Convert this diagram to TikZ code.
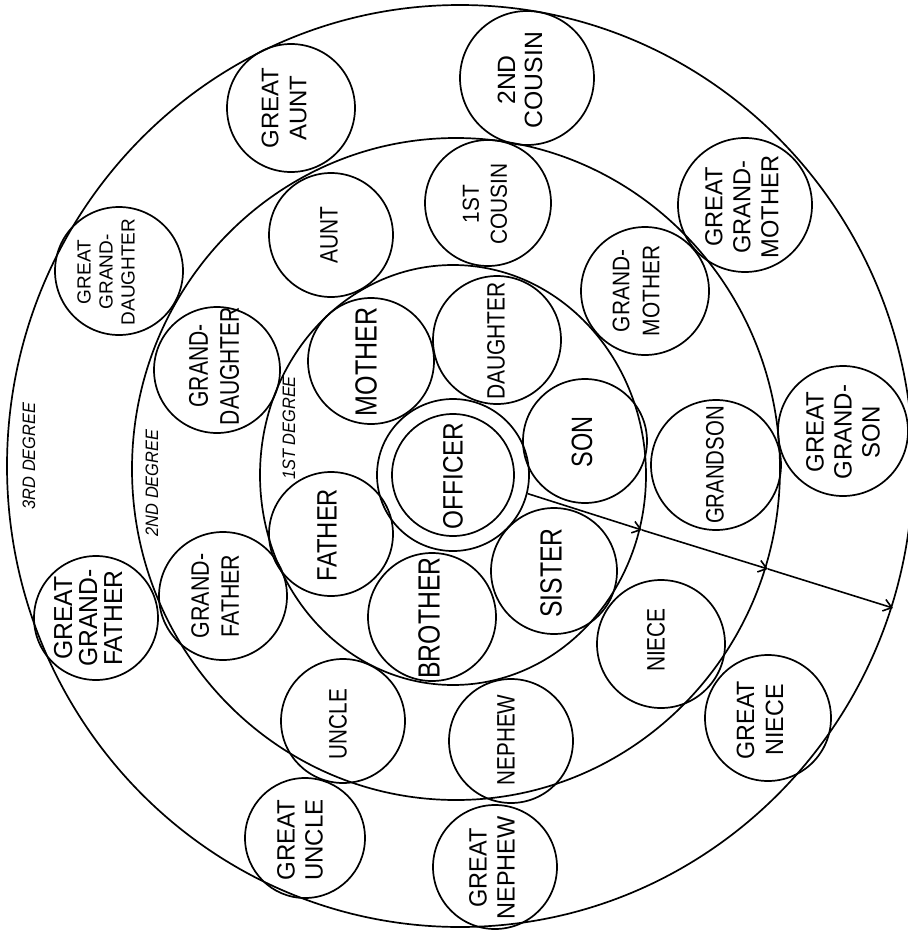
\documentclass[tikz,border=0pt]{standalone}
\usepackage{fontspec}
\setmainfont{Liberation Sans}
\usetikzlibrary{arrows.meta,shapes.geometric}
\newcommand\fsz[2]{\fontsize{#1pt}{#2pt}\selectfont}
\begin{document}
\begin{tikzpicture}[x=0.5pt,y=-0.5pt,
  ln/.style={line width=0.85pt, draw=black},
  ring/.style={ln, circle, inner sep=0pt},
  band/.style={ln, ellipse, inner sep=0pt},
  lab/.style={rotate=90, transform shape, align=center, inner sep=0pt, text=black},
  deg/.style={lab, font=\fsz{9}{10}\itshape},
  arr/.style={line width=0.8pt, -{Straight Barb[length=4pt,width=6pt,line width=0.8pt]}}]
\useasboundingbox (0,0) rectangle (908,932);
\fill[white] (0,0) rectangle (908,932);

% degree bands
\node[band, minimum width=193pt, minimum height=210pt] (b1) at (453,475) {};
\node[band, minimum width=324pt, minimum height=331pt] (b2) at (456,469) {};
\node[band, minimum width=453pt, minimum height=461pt] (b3) at (460,466) {};

% officer
\node[ring, minimum size=76pt] (oo) at (453,475) {};
\node[ring, minimum size=61pt] (oi) at (453,475) {};

% first degree
\node[ring, minimum size=63pt] (c-mother) at (371,361) {};
\node[ring, minimum size=64pt] (c-daughter) at (497,340) {};
\node[ring, minimum size=62pt] (c-son) at (585,441) {};
\node[ring, minimum size=63pt] (c-sister) at (554,571) {};
\node[ring, minimum size=64pt] (c-brother) at (432,617) {};
\node[ring, minimum size=62pt] (c-father) at (331,534) {};

% second degree
\node[ring, minimum size=62pt] (c-aunt) at (331,235) {};
\node[ring, minimum size=63pt] (c-cousin1) at (488,203) {};
\node[ring, minimum size=64pt] (c-gmother) at (645,291) {};
\node[ring, minimum size=65pt] (c-grandson) at (716,465) {};
\node[ring, minimum size=64pt] (c-niece) at (661,644) {};
\node[ring, minimum size=62pt] (c-nephew) at (511,741) {};
\node[ring, minimum size=62pt] (c-uncle) at (343,721) {};
\node[ring, minimum size=64pt] (c-gfather) at (223,596) {};
\node[ring, minimum size=63pt] (c-gdaughter) at (217,370) {};

% third degree
\node[ring, minimum size=64pt] (c-gaunt) at (291,108) {};
\node[ring, minimum size=67pt] (c-cousin2) at (527,78) {};
\node[ring, minimum size=67pt] (c-ggmother) at (745,205) {};
\node[ring, minimum size=65pt] (c-ggson) at (843,431) {};
\node[ring, minimum size=63pt] (c-gniece) at (768,718) {};
\node[ring, minimum size=62pt] (c-gnephew) at (495,867) {};
\node[ring, minimum size=60pt] (c-guncle) at (305,838) {};
\node[ring, minimum size=62pt] (c-ggfather) at (96,618) {};
\node[ring, minimum size=64pt] (c-ggdaughter) at (119,271) {};

% labels
\node[lab, font=\fsz{14}{15}, xscale=0.87] (t-officer) at (453,476) {OFFICER};
\node[lab, font=\fsz{15.3}{16}, xscale=0.82] (t-mother) at (366,362) {MOTHER};
\node[lab, font=\fsz{12.5}{14}, xscale=0.84] (t-daughter) at (496,341) {DAUGHTER};
\node[lab, font=\fsz{14.7}{16}, xscale=0.80] (t-son) at (582,442) {SON};
\node[lab, font=\fsz{15.3}{16}, xscale=0.81] (t-sister) at (551,573) {SISTER};
\node[lab, font=\fsz{15.3}{16}, xscale=0.81] (t-brother) at (429,618) {BROTHER};
\node[lab, font=\fsz{14}{15}, xscale=0.85] (t-father) at (327,535) {FATHER};

\node[lab, font=\fsz{12.6}{14}, xscale=0.83] (t-aunt) at (329,235) {AUNT};
\node[lab, font=\fsz{11.6}{14}, xscale=0.90] (t-cousin1) at (485,204) {1ST\\COUSIN};
\node[lab, font=\fsz{12}{15}, xscale=0.87] (t-gmother) at (636,291) {GRAND-\\MOTHER};
\node[lab, font=\fsz{12.6}{14}, xscale=0.81] (t-grandson) at (715,465) {GRANDSON};
\node[lab, font=\fsz{12.6}{14}, xscale=0.83] (t-niece) at (656,640) {NIECE};
\node[lab, font=\fsz{12.6}{14}, xscale=0.82] (t-nephew) at (506,740) {NEPHEW};
\node[lab, font=\fsz{12.6}{14}, xscale=0.82] (t-uncle) at (338,724) {UNCLE};
\node[lab, font=\fsz{12.6}{15}, xscale=0.85] (t-gfather) at (215,596) {GRAND-\\FATHER};
\node[lab, font=\fsz{13.5}{15.5}, xscale=0.78] (t-gdaughter) at (214,366) {GRAND-\\DAUGHTER};

\node[lab, font=\fsz{12}{14}, xscale=1.0] (t-gaunt) at (284,108) {GREAT\\AUNT};
\node[lab, font=\fsz{12.5}{13.5}, xscale=0.99] (t-cousin2) at (520,80) {2ND\\COUSIN};
\node[lab, font=\fsz{12.3}{14}, xscale=0.96] (t-ggmother) at (742,207) {GREAT\\GRAND-\\MOTHER};
\node[lab, font=\fsz{12.5}{14}, xscale=0.96] (t-ggson) at (843,432) {GREAT\\GRAND-\\SON};
\node[lab, font=\fsz{12.5}{14.5}, xscale=0.93] (t-gniece) at (760,720) {GREAT\\NIECE};
\node[lab, font=\fsz{12.5}{14}, xscale=0.94] (t-gnephew) at (492,868) {GREAT\\NEPHEW};
\node[lab, font=\fsz{12.5}{14}, xscale=0.96] (t-guncle) at (300,840) {GREAT\\UNCLE};
\node[lab, font=\fsz{13}{12.5}, xscale=0.95] (t-ggfather) at (88,618) {GREAT\\GRAND-\\FATHER};
\node[lab, font=\fsz{9.5}{11}, xscale=1.0] (t-ggdaughter) at (106,272) {GREAT\\GRAND-\\DAUGHTER};

% degree labels
\node[deg, xscale=0.91] (d1) at (289,428) {1ST DEGREE};
\node[deg, xscale=0.91] (d2) at (152,483) {2ND DEGREE};
\node[deg, xscale=0.91] (d3) at (29,456) {3RD DEGREE};

% radius arrows
\coordinate (p0) at (oo.-14);
\coordinate (p1) at (642,530);
\coordinate (p2) at (768,569);
\coordinate (p3) at (893,608);
\draw[arr] (p0) -- (p1);
\draw[arr] (p1) -- (p2);
\draw[arr] (p2) -- (p3);
\end{tikzpicture}
\end{document}
